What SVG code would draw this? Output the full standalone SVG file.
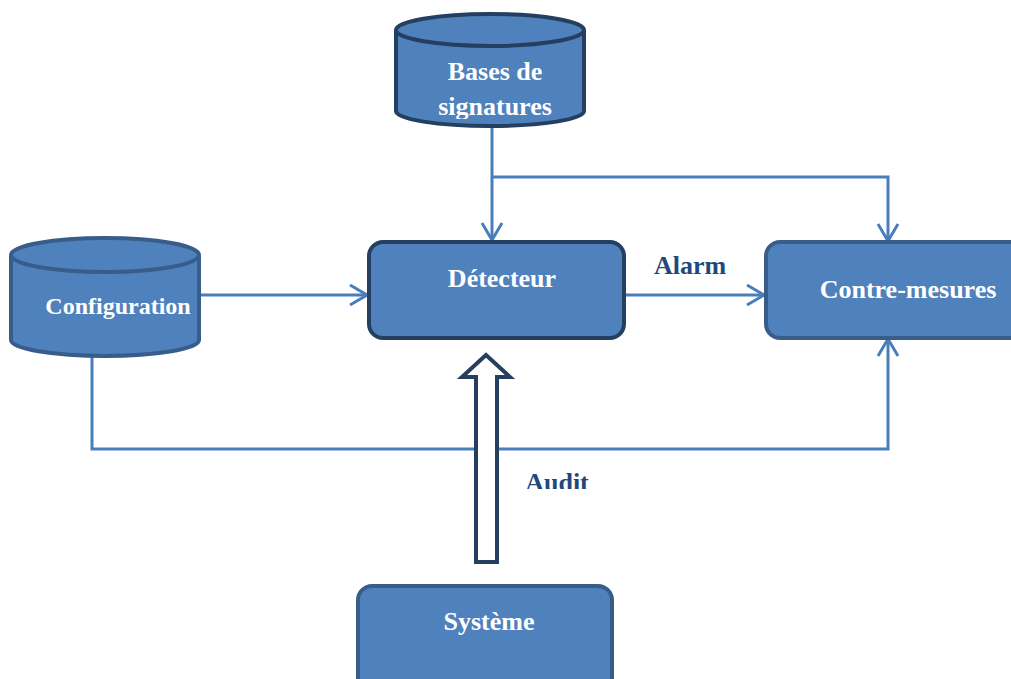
<svg xmlns="http://www.w3.org/2000/svg" width="1011" height="679" viewBox="0 0 1011 679">
  <style>
    .node { fill: #4F81BD; stroke-width: 4; }
    .dark { stroke: #243F60; }
    .mid { stroke: #385D8A; }
    .label { font-family: "Liberation Serif", "Times New Roman", serif; font-weight: bold; font-size: 26px; fill: #FFFFFF; text-anchor: middle; }
    .edge-label { font-family: "Liberation Serif", "Times New Roman", serif; font-weight: bold; font-size: 26px; fill: #1F497D; text-anchor: middle; }
    .wire { fill: none; stroke: #4A7EBB; stroke-width: 3; }
  </style>
  <defs>
    <marker id="open" viewBox="0 0 20 24" refX="19" refY="12" markerWidth="20" markerHeight="24" markerUnits="userSpaceOnUse" orient="auto">
      <path d="M2,2 L19,12 L2,22" fill="none" stroke="#4A7EBB" stroke-width="3"/>
    </marker>
    <clipPath id="clipSig"><rect x="380" y="0" width="230" height="119"/></clipPath>
    <clipPath id="clipAudit"><rect x="500" y="460" width="120" height="29"/></clipPath>
  </defs>

  <!-- connectors -->
  <g id="connectors">
    <path class="wire" d="M492,126 V240" marker-end="url(#open)"/>
    <path class="wire" d="M492,177 H888 V241" marker-end="url(#open)"/>
    <path class="wire" d="M198,295 H367" marker-end="url(#open)"/>
    <path class="wire" d="M612,295 H764" marker-end="url(#open)"/>
    <path class="wire" d="M92,357 V449 H888 V339" marker-end="url(#open)"/>
    <text class="edge-label" x="690" y="274">Alarm</text>
    <text class="edge-label" x="557" y="491" clip-path="url(#clipAudit)">Audit</text>
  </g>

  <!-- Bases de signatures -->
  <g id="bases">
    <path class="node dark" d="M396,30 V111 A94,15 0 0 0 584,111 V30"/>
    <ellipse class="node dark" cx="490" cy="30" rx="94" ry="16"/>
    <g clip-path="url(#clipSig)">
      <text class="label" x="495" y="80">Bases de</text>
      <text class="label" x="495" y="115">signatures</text>
    </g>
  </g>

  <!-- Configuration -->
  <g id="configuration">
    <path class="node mid" d="M11,256 V340 A94,16 0 0 0 199,340 V256"/>
    <ellipse class="node mid" cx="105" cy="255" rx="94" ry="17"/>
    <text class="label" x="118" y="314" style="font-size:24px">Configuration</text>
  </g>

  <!-- Détecteur -->
  <g id="detecteur">
    <rect class="node dark" x="369" y="242" width="255" height="96" rx="14"/>
    <text class="label" x="502" y="287">Détecteur</text>
  </g>

  <!-- Contre-mesures -->
  <g id="contre-mesures">
    <rect class="node mid" x="766" y="242" width="260" height="96" rx="14"/>
    <text class="label" x="908" y="298">Contre-mesures</text>
  </g>

  <!-- Système -->
  <g id="systeme">
    <rect class="node mid" x="358" y="586" width="254" height="110" rx="14"/>
    <text class="label" x="489" y="630">Système</text>
  </g>

  <!-- Audit flow: hollow block arrow -->
  <g id="audit-arrow">
    <path d="M476,562 V377 H462 L486,355 L510,377 H497 V562 Z" fill="#FFFFFF" stroke="#243F60" stroke-width="4" stroke-linejoin="miter"/>
  </g>
</svg>
